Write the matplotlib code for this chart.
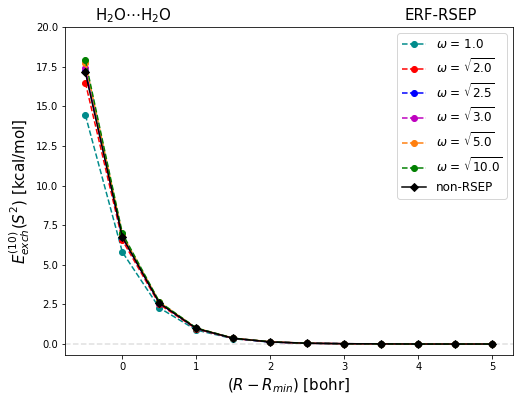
import numpy as np
import matplotlib.pyplot as plt

# ==========================================================
# Données
# ==========================================================
R = [-0.5, 0.0, 0.5, 1.0, 1.5, 2.0, 2.5, 3.0, 3.5, 4.0, 4.5, 5.0]

E_w1 = [14.45, 5.80, 2.28, 0.88, 0.33, 0.12, 0.05, 0.02, 0.01, 0.0, 0.0, 0.0]
E_w2 = [16.50, 6.55, 2.50, 0.95, 0.35, 0.13, 0.05, 0.02, 0.01, 0.0, 0.0, 0.0]
E_w25 = [17.25, 6.75, 2.58, 0.98, 0.36, 0.13, 0.05, 0.02, 0.01, 0.0, 0.0, 0.0]
E_w3 = [17.40, 6.80, 2.60, 0.99, 0.36, 0.13, 0.05, 0.02, 0.01, 0.0, 0.0, 0.0]
E_w5 = [17.75, 6.90, 2.64, 1.00, 0.37, 0.14, 0.05, 0.02, 0.01, 0.0, 0.0, 0.0]
E_w10 = [17.90, 6.98, 2.66, 1.01, 0.37, 0.14, 0.05, 0.02, 0.01, 0.0, 0.0, 0.0]
E_nonrsep = [17.15, 6.75, 2.58, 0.98, 0.36, 0.13, 0.05, 0.02, 0.01, 0.0, 0.0, 0.0]

series = [
    (E_w1, "darkcyan", r"$\omega$ = 1.0"),
    (E_w2, "red", r"$\omega$ = $\sqrt{2.0}$"),
    (E_w25, "blue", r"$\omega$ = $\sqrt{2.5}$"),
    (E_w3, "m", r"$\omega$ = $\sqrt{3.0}$"),
    (E_w5, "tab:orange", r"$\omega$ = $\sqrt{5.0}$"),
    (E_w10, "green", r"$\omega$ = $\sqrt{10.0}$"),
]

# ==========================================================
# Figure
# ==========================================================
fig = plt.figure(figsize=(518 / 72, 399 / 72), dpi=72)
ax = fig.add_axes([0.1255, 0.110, 0.8645, 0.822])

ax.axhline(0, color="lightgray", linestyle="--", alpha=0.7, linewidth=1.5)

for vals, col, lab in series:
    ax.plot(R, vals, "o--", color=col, markersize=6, linewidth=1.5, label=lab)

ax.plot(R, E_nonrsep, "D-", color="black", markersize=5.5, linewidth=1.5,
        label="non-RSEP")

ax.set_ylim(-0.7, 20)
ax.set_xlabel(r"$(R - R_{min})$ [bohr]", fontsize=15)
ax.set_ylabel(r"$E^{(10)}_{exch}(S^2)$ [kcal/mol]", fontsize=15)

fig.text(0.257, 0.962, r"H$_2$O$\cdots$H$_2$O", fontsize=15, ha="center", va="center")
fig.text(0.850, 0.962, "ERF-RSEP", fontsize=15, ha="center", va="center")

ax.legend(loc="upper right", fontsize=12)

fig.savefig("out.png", dpi=72)
